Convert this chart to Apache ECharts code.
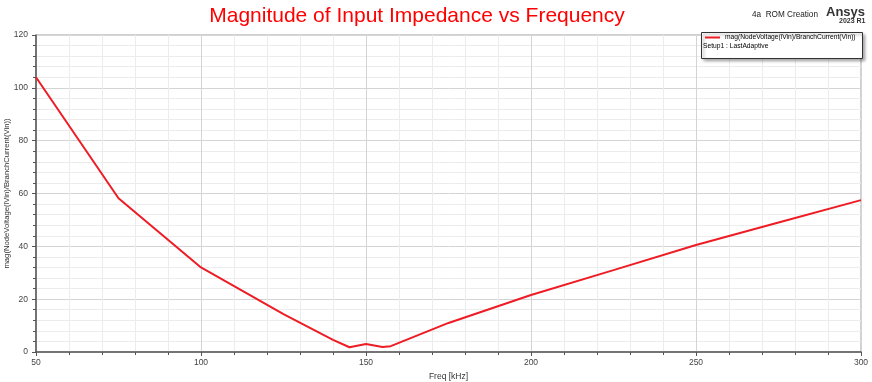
<!DOCTYPE html>
<html>
<head>
<meta charset="utf-8">
<script src="https://cdn.jsdelivr.net/npm/echarts@6/dist/echarts.min.js"></script>
<style>
html,body{margin:0;padding:0;background:#fff;}
#chart{width:872px;height:382px;}
</style>
</head>
<body>
<div id="chart"></div>
<script>
const freqKHz = [50, 75, 100, 125, 140, 145, 150, 155, 157.5, 175, 200, 225, 250, 275, 300];
const magZ = [104, 58.2, 32, 14.3, 4.6, 1.8, 3.0, 1.9, 2.2, 11, 21.6, 31, 40.5, 49, 57.5];
const seriesName = 'mag(NodeVoltage(lVin)/BranchCurrent(Vin))';
const setupLabel = 'Setup1 : LastAdaptive';
const titleText = 'Magnitude of Input Impedance vs Frequency';
const xLabel = 'Freq [kHz]';
const yLabel = 'mag(NodeVoltage(lVin)/BranchCurrent(Vin))';

const chart = echarts.init(document.getElementById('chart'), null, {renderer: 'canvas'});
const font = 'Liberation Sans, Arial, sans-serif';
chart.setOption({
  animation: false,
  backgroundColor: '#fff',
  title: {
    text: titleText, left: 412, top: 1, textAlign: 'center',
    textStyle: {color: '#ff0000', fontSize: 21, fontWeight: 'normal', fontFamily: font}
  },
  grid: {left: 36, right: 11, top: 35, bottom: 30, containLabel: false, outerBoundsMode: 'none',
         show: true, borderColor: '#a0a0a0', borderWidth: 1},
  legend: {
    data: [seriesName], left: 703, top: 32, z: 100, itemWidth: 15, itemHeight: 2, itemGap: 4,
    icon: 'rect', padding: [2, 2],
    textStyle: {fontSize: 6.7, color: '#000', fontFamily: font}
  },
  xAxis: {
    type: 'value', min: 50, max: 300, interval: 50,
    name: xLabel, nameLocation: 'middle', nameGap: 20, nameMoveOverlap: false,
    nameTextStyle: {fontSize: 8.5, color: '#333', fontFamily: font},
    axisLine: {show: true, onZero: false, lineStyle: {color: '#555', width: 1.5}},
    axisTick: {show: true, length: 4, lineStyle: {color: '#555'}},
    minorTick: {show: true, splitNumber: 5, length: 3, lineStyle: {color: '#555'}},
    axisLabel: {fontSize: 8.5, color: '#444', margin: 6, fontFamily: font},
    splitLine: {show: true, lineStyle: {color: '#d4d4d4', width: 1}},
    minorSplitLine: {show: true, lineStyle: {color: '#ececec', width: 1}}
  },
  yAxis: {
    type: 'value', min: 0, max: 120, interval: 20,
    name: yLabel, nameLocation: 'middle', nameGap: 25, nameMoveOverlap: false,
    nameTextStyle: {fontSize: 7.7, color: '#333', fontFamily: font},
    axisLine: {show: true, onZero: false, lineStyle: {color: '#555', width: 1.5}},
    axisTick: {show: true, length: 4, lineStyle: {color: '#555'}},
    minorTick: {show: true, splitNumber: 5, length: 3, lineStyle: {color: '#555'}},
    axisLabel: {fontSize: 8.5, color: '#444', margin: 8, fontFamily: font},
    splitLine: {show: true, lineStyle: {color: '#d4d4d4', width: 1}},
    minorSplitLine: {show: true, lineStyle: {color: '#ececec', width: 1}}
  },
  graphic: [
    {type: 'rect', left: 701, top: 32, z: 90, shape: {width: 161, height: 26},
     style: {fill: '#fff', stroke: '#333', lineWidth: 1, shadowBlur: 3, shadowOffsetX: 2, shadowOffsetY: 2, shadowColor: 'rgba(0,0,0,0.35)'}},
    {type: 'text', left: 703, top: 43, z: 101,
     style: {text: setupLabel, fontSize: 6.7, fill: '#000', fontFamily: font}},
    {type: 'text', left: 752, top: 11, z: 101,
     style: {text: '4a  ROM Creation', fontSize: 8.2, fill: '#222', fontFamily: font}},
    {type: 'text', left: 826, top: 6, z: 101,
     style: {text: 'Ansys', fontSize: 13, fontWeight: 'bold', fill: '#333', fontFamily: font}},
    {type: 'text', left: 839, top: 18, z: 101,
     style: {text: '2023 R1', fontSize: 7, fontWeight: 'bold', fill: '#333', fontFamily: font}}
  ],
  series: [{
    name: seriesName, type: 'line', z: 10,
    data: freqKHz.map((f, i) => [f, magZ[i]]),
    showSymbol: false, symbol: 'none',
    lineStyle: {color: '#ee1c24', width: 2},
    itemStyle: {color: '#ee1c24'}
  }]
});
</script>
</body>
</html>
